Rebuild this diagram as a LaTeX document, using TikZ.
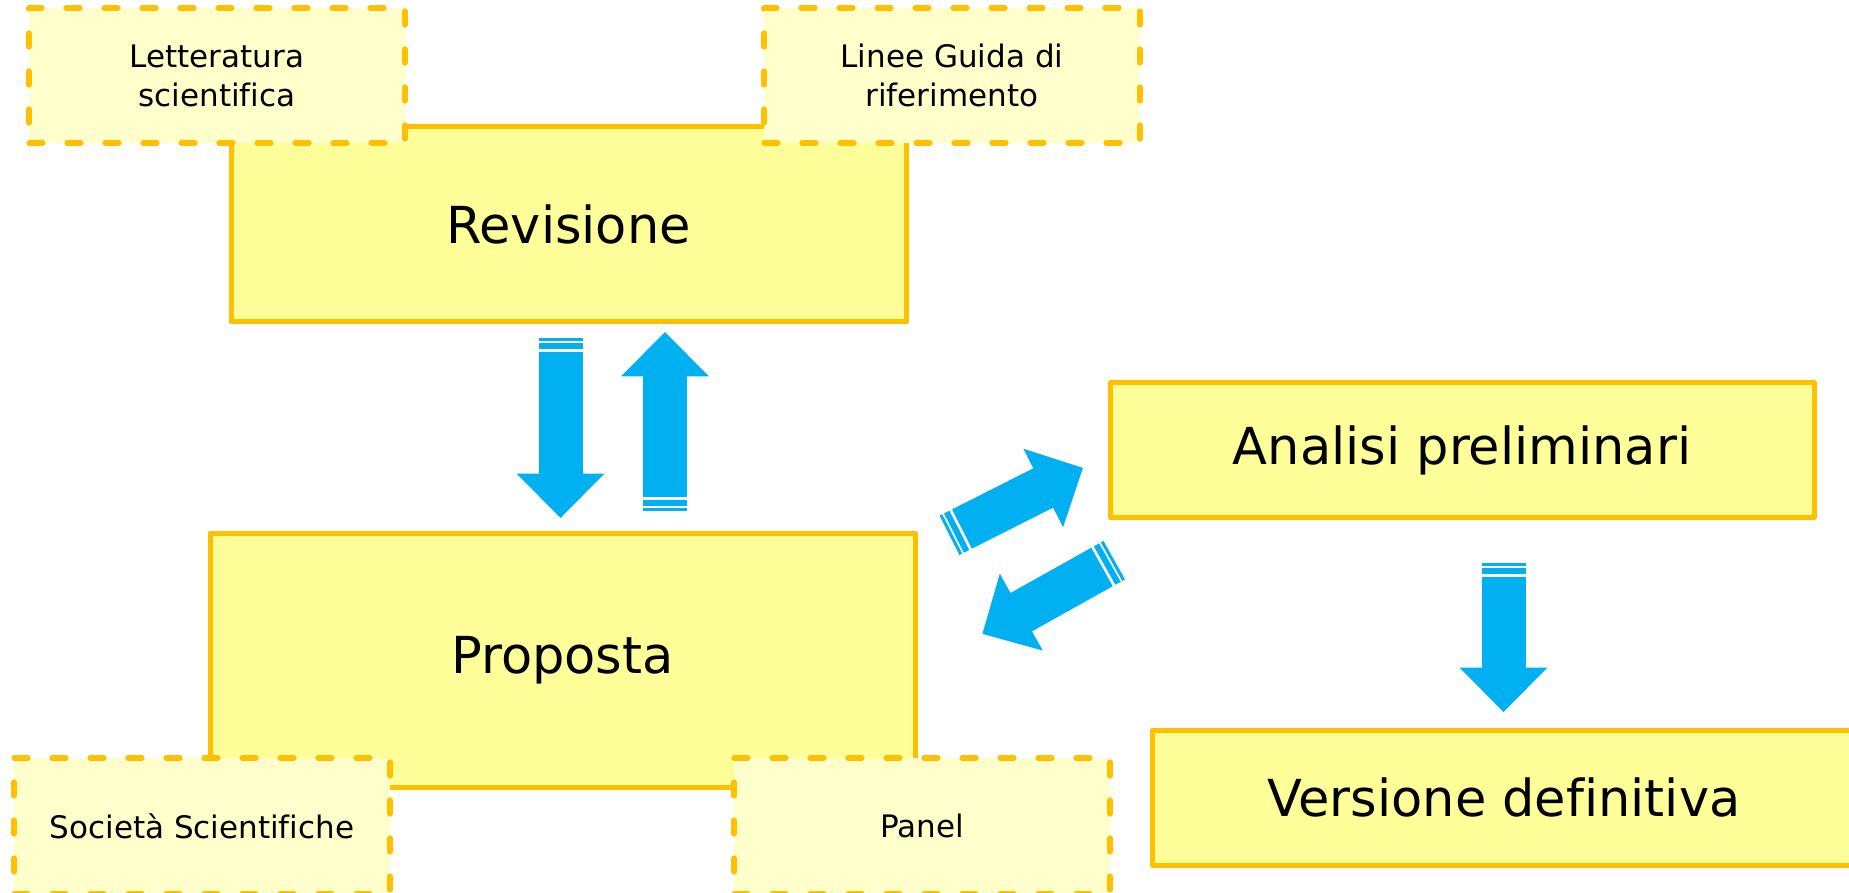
\documentclass[tikz,border=0pt]{standalone}
\usepackage{fontspec}
\setmainfont{DejaVu Sans}[Ligatures=CommonOff]
\definecolor{bord}{HTML}{FFC000}
\definecolor{mainfill}{HTML}{FFFF99}
\definecolor{srcfill}{HTML}{FFFFCC}
\definecolor{arrowblue}{HTML}{00B0F0}
\tikzset{
  mainbox/.style={draw=bord, fill=mainfill, line width=2.5pt, line join=round,
    inner sep=0pt, font=\fontsize{25.5}{30}\selectfont},
  srcbox/.style={draw=bord, fill=srcfill, line width=2.6pt, line cap=round, line join=round,
    dash pattern=on 7pt off 12pt, inner sep=0pt, align=center,
    minimum width=188pt, minimum height=67.5pt,
    font=\fontsize{15.5}{19.5}\selectfont},
  pics/blockarrow/.style={code={
    \fill[arrowblue] (0,-22) rectangle (#1-44,22);
    \fill[arrowblue] (#1-44.5,-44) -- (#1,0) -- (#1-44.5,44) -- cycle;
    \fill[arrowblue] (-3,-22) rectangle (-9,22);
    \fill[arrowblue] (-11,-22) rectangle (-14,22);
  }}
}
\begin{document}
\begin{tikzpicture}[x=0.5pt,y=-0.5pt]
\useasboundingbox (0,0) rectangle (1849,893);
\clip (0,0) rectangle (1849,893);
\fill[white] (0,0) rectangle (1849,893);
% main boxes
\node[mainbox, minimum width=337.5pt, minimum height=97.5pt] (rev) at (568.5,224.5) {Revisione};
\node[mainbox, minimum width=352.5pt, minimum height=127pt] (prop) at (562.5,660) {Proposta};
\node[mainbox, minimum width=352pt, minimum height=67pt] (ana) at (1462,450) {Analisi preliminari};
\node[mainbox, minimum width=352pt, minimum height=67.5pt] (ver) at (1504,797.5) {Versione definitiva};
% source boxes
\node[srcbox] (lit) at (217,75.5) {Letteratura\\scientifica};
\node[srcbox] (lin) at (952,75.5) {Linee Guida di\\riferimento};
\node[srcbox, minimum height=68pt] (soc) at (202,826) {Società Scientifiche};
\node[srcbox, minimum height=68pt] (pan) at (922,826) {Panel};
% arrows
\coordinate (a1) at (560.5,352);
\coordinate (a2) at (665,497);
\coordinate (a3) at (962,529);
\coordinate (a4) at (1102,567);
\coordinate (a5) at (1503.5,577);
\pic[rotate=-90] at (a1) {blockarrow=166};
\pic[rotate=90] at (a2) {blockarrow=165};
\pic[rotate=26.8] at (a3) {blockarrow=135.5};
\pic[rotate=209.2] at (a4) {blockarrow=137};
\pic[rotate=-90] at (a5) {blockarrow=135};
\end{tikzpicture}
\end{document}
